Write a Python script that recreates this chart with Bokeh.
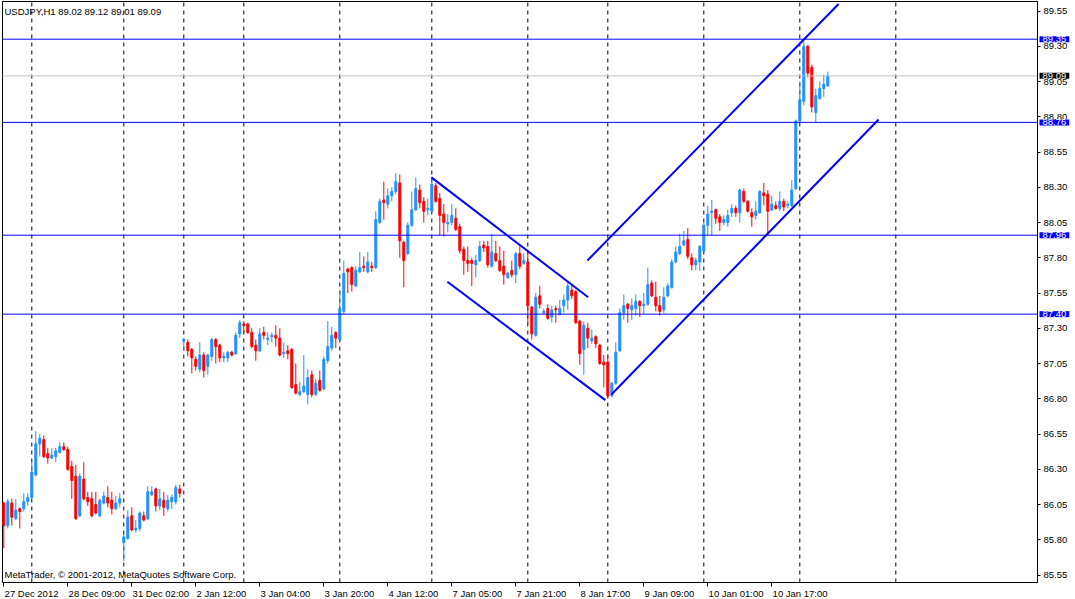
from bokeh.plotting import figure
from bokeh.models import (Range1d, FixedTicker, Label, ColumnDataSource,
                          PrintfTickFormatter, LinearAxis)
from bokeh.embed import file_html
from bokeh.resources import INLINE

# ---------------- data ----------------
symbol = "USDJPY,H1"
last_ohlc = [89.02, 89.12, 89.01, 89.09]

opens = [86.06, 85.90, 86.06, 85.95, 86.02, 86.02, 86.07, 86.10, 86.26, 86.48,
         86.51, 86.41, 86.38, 86.39, 86.42, 86.46, 86.44, 86.32, 86.25, 85.97,
         86.23, 86.10, 86.09, 86.05, 85.97, 86.06, 86.10, 86.08, 86.02, 86.06,
         85.78, 85.81, 85.97, 85.87, 85.88, 85.97, 85.95, 86.12, 86.16, 86.04,
         86.08, 86.02, 86.07, 86.07, 86.16, 87.21, 87.20, 87.15, 87.08, 87.01,
         87.11, 87.03, 87.10, 87.22, 87.18, 87.09, 87.09, 87.13, 87.12, 87.26,
         87.33, 87.33, 87.27, 87.18, 87.14, 87.27, 87.22, 87.24, 87.25, 87.23,
         87.12, 87.14, 87.15, 86.90, 86.83, 86.85, 86.83, 86.97, 86.83, 86.93,
         86.87, 87.07, 87.16, 87.27, 87.22, 87.42, 87.72, 87.73, 87.60, 87.70,
         87.74, 87.70, 87.74, 87.73, 88.05, 88.21, 88.18, 88.24, 88.27, 88.33,
         87.91, 87.83, 88.03, 88.14, 88.28, 88.20, 88.14, 88.13, 88.31, 88.22,
         88.11, 88.04, 88.05, 88.08, 88.02, 87.86, 87.78, 87.78, 87.75, 87.78,
         87.89, 87.88, 87.74, 87.83, 87.78, 87.74, 87.66, 87.71, 87.68, 87.83,
         87.76, 87.77, 87.45, 87.25, 87.53, 87.41, 87.44, 87.38, 87.44, 87.40,
         87.46, 87.50, 87.57, 87.56, 87.35, 87.15, 87.30, 87.21, 87.24, 87.18,
         87.06, 87.06, 86.82, 86.91, 87.14, 87.41, 87.47, 87.43, 87.44, 87.49,
         87.46, 87.47, 87.62, 87.52, 87.46, 87.43, 87.53, 87.59, 87.77, 87.83,
         87.89, 87.93, 87.80, 87.75, 87.77, 87.85, 88.03, 88.12, 88.14, 88.09,
         88.05, 88.05, 88.12, 88.15, 88.12, 88.27, 88.20, 88.12, 88.10, 88.12,
         88.26, 88.25, 88.14, 88.17, 88.15, 88.20, 88.17, 88.17, 88.29, 88.77,
         88.91, 89.30, 89.15, 88.83, 88.93, 89.00, 89.02]

highs = [86.07, 86.09, 86.09, 86.09, 86.03, 86.13, 86.13, 86.35, 86.57, 86.55,
         86.54, 86.45, 86.45, 86.45, 86.49, 86.49, 86.46, 86.36, 86.33, 86.27,
         86.35, 86.14, 86.14, 86.14, 86.09, 86.14, 86.18, 86.14, 86.11, 86.13,
         85.84, 86.01, 86.03, 85.94, 86.00, 86.00, 86.18, 86.18, 86.17, 86.16,
         86.14, 86.12, 86.12, 86.19, 86.19, 87.23, 87.22, 87.16, 87.10, 87.20,
         87.13, 87.12, 87.23, 87.23, 87.19, 87.13, 87.14, 87.14, 87.27, 87.36,
         87.35, 87.34, 87.30, 87.22, 87.30, 87.31, 87.27, 87.27, 87.32, 87.30,
         87.20, 87.18, 87.16, 87.05, 86.92, 87.11, 87.01, 87.00, 86.94, 87.00,
         87.10, 87.35, 87.31, 87.28, 87.56, 87.78, 87.73, 87.74, 87.74, 87.84,
         87.81, 87.84, 87.77, 88.13, 88.22, 88.34, 88.29, 88.30, 88.40, 88.39,
         87.92, 88.05, 88.27, 88.37, 88.32, 88.23, 88.22, 88.36, 88.33, 88.26,
         88.18, 88.11, 88.18, 88.15, 88.04, 87.88, 87.88, 87.80, 87.82, 87.92,
         87.92, 87.92, 87.97, 87.92, 87.88, 87.85, 87.70, 87.78, 87.84, 87.88,
         87.83, 87.84, 87.46, 87.55, 87.60, 87.44, 87.47, 87.46, 87.46, 87.50,
         87.54, 87.62, 87.60, 87.57, 87.36, 87.35, 87.34, 87.29, 87.25, 87.19,
         87.11, 87.11, 86.92, 87.20, 87.44, 87.54, 87.48, 87.51, 87.54, 87.50,
         87.55, 87.73, 87.64, 87.63, 87.53, 87.59, 87.62, 87.79, 87.88, 87.97,
         87.99, 88.01, 87.83, 87.80, 87.89, 88.05, 88.17, 88.21, 88.15, 88.11,
         88.10, 88.14, 88.18, 88.17, 88.29, 88.29, 88.21, 88.15, 88.20, 88.28,
         88.33, 88.28, 88.24, 88.20, 88.27, 88.22, 88.20, 88.35, 88.78, 89.05,
         89.34, 89.31, 89.17, 89.00, 89.05, 89.10, 89.12]

lows = [85.74, 85.88, 85.90, 85.94, 85.88, 86.00, 86.04, 86.09, 86.25, 86.39,
        86.38, 86.34, 86.37, 86.35, 86.41, 86.43, 86.29, 86.09, 85.94, 85.96,
        86.08, 86.04, 85.96, 85.98, 85.96, 86.05, 86.03, 85.98, 86.01, 86.03,
        85.65, 85.80, 85.86, 85.85, 85.86, 85.93, 85.94, 86.11, 86.00, 86.01,
        85.97, 86.00, 86.02, 86.05, 86.10, 87.14, 87.10, 86.98, 87.00, 86.99,
        86.95, 86.97, 87.07, 87.05, 87.06, 87.06, 87.06, 87.10, 87.11, 87.23,
        87.27, 87.26, 87.16, 87.07, 87.13, 87.22, 87.18, 87.20, 87.17, 87.10,
        87.09, 87.08, 86.87, 86.83, 86.82, 86.84, 86.76, 86.81, 86.82, 86.85,
        86.86, 87.05, 87.14, 87.16, 87.21, 87.40, 87.55, 87.56, 87.59, 87.69,
        87.70, 87.69, 87.70, 87.72, 88.04, 88.07, 88.15, 88.20, 88.25, 87.80,
        87.59, 87.82, 88.02, 88.13, 88.15, 88.05, 88.10, 88.12, 88.19, 87.96,
        87.95, 87.98, 88.03, 87.99, 87.83, 87.68, 87.70, 87.60, 87.66, 87.77,
        87.84, 87.73, 87.73, 87.77, 87.70, 87.61, 87.65, 87.66, 87.62, 87.72,
        87.75, 87.33, 87.22, 87.24, 87.44, 87.40, 87.36, 87.34, 87.34, 87.39,
        87.41, 87.43, 87.51, 87.33, 87.04, 86.97, 87.16, 87.19, 87.16, 87.04,
        86.88, 86.81, 86.81, 86.90, 87.13, 87.36, 87.34, 87.36, 87.39, 87.38,
        87.40, 87.46, 87.52, 87.42, 87.39, 87.41, 87.52, 87.58, 87.76, 87.82,
        87.88, 87.79, 87.71, 87.71, 87.71, 87.84, 87.96, 87.96, 88.04, 87.99,
        88.03, 88.02, 88.09, 88.09, 88.05, 88.19, 88.12, 88.02, 88.07, 88.11,
        88.17, 87.96, 88.13, 88.14, 88.13, 88.13, 88.15, 88.16, 88.28, 88.76,
        88.88, 89.08, 88.83, 88.76, 88.92, 88.94, 89.01]

closes = [85.90, 86.07, 85.96, 86.01, 86.00, 86.07, 86.10, 86.28, 86.48, 86.52,
          86.39, 86.38, 86.40, 86.43, 86.46, 86.44, 86.30, 86.22, 85.95, 86.25,
          86.09, 86.07, 85.97, 85.99, 86.08, 86.11, 86.06, 86.02, 86.06, 86.09,
          85.82, 85.96, 85.87, 85.88, 85.99, 85.94, 86.14, 86.14, 86.04, 86.09,
          86.03, 86.08, 86.10, 86.17, 86.13, 87.22, 87.14, 87.09, 87.03, 87.11,
          87.00, 87.11, 87.22, 87.17, 87.09, 87.10, 87.13, 87.11, 87.25, 87.34,
          87.32, 87.27, 87.17, 87.14, 87.26, 87.25, 87.23, 87.25, 87.23, 87.11,
          87.13, 87.12, 86.88, 86.84, 86.85, 86.89, 86.95, 86.83, 86.91, 86.86,
          87.08, 87.17, 87.25, 87.23, 87.44, 87.69, 87.70, 87.61, 87.71, 87.73,
          87.73, 87.77, 87.73, 88.07, 88.20, 88.19, 88.24, 88.27, 88.34, 87.92,
          87.78, 88.03, 88.14, 88.29, 88.19, 88.13, 88.15, 88.32, 88.20, 88.10,
          88.05, 88.05, 88.10, 88.00, 87.85, 87.78, 87.76, 87.76, 87.78, 87.88,
          87.87, 87.75, 87.84, 87.78, 87.71, 87.68, 87.69, 87.68, 87.83, 87.74,
          87.78, 87.46, 87.26, 87.52, 87.47, 87.42, 87.37, 87.43, 87.43, 87.44,
          87.50, 87.60, 87.53, 87.34, 87.12, 87.32, 87.23, 87.23, 87.19, 87.05,
          87.04, 86.82, 86.91, 87.13, 87.41, 87.46, 87.44, 87.46, 87.49, 87.46,
          87.47, 87.61, 87.53, 87.46, 87.42, 87.52, 87.60, 87.77, 87.84, 87.88,
          87.92, 87.81, 87.75, 87.78, 87.88, 88.03, 88.11, 88.13, 88.08, 88.05,
          88.07, 88.10, 88.15, 88.12, 88.28, 88.20, 88.13, 88.09, 88.13, 88.27,
          88.24, 88.13, 88.18, 88.15, 88.20, 88.16, 88.18, 88.28, 88.77, 88.92,
          89.30, 89.11, 88.87, 88.95, 89.00, 89.03, 89.09]

tick_bars = [0, 16, 32, 48, 64, 80, 96, 112, 128, 144, 160, 176, 192]
tick_labels = ["27 Dec 2012", "28 Dec 09:00", "31 Dec 02:00", "2 Jan 12:00",
               "3 Jan 04:00", "3 Jan 20:00", "4 Jan 12:00", "7 Jan 05:00",
               "7 Jan 21:00", "8 Jan 17:00", "9 Jan 09:00", "10 Jan 01:00",
               "10 Jan 17:00"]
day_start_bars = [7, 30, 45, 60, 84, 107, 131, 151, 175, 199, 223]
price_ticks = [85.55, 85.80, 86.05, 86.30, 86.55, 86.80, 87.05, 87.30, 87.55,
               87.80, 88.05, 88.30, 88.55, 88.80, 89.05, 89.30, 89.55]
levels = [89.35, 88.76, 87.96, 87.40]
bid_price = 89.09

# trend lines: start bar, start price, end bar, end price
trend_x0 = [106.9, 110.9, 151.9, 145.9]
trend_y0 = [88.37, 87.63, 86.83, 87.78]
trend_x1 = [146.1, 150.4, 218.7, 208.7]
trend_y1 = [87.52, 86.79, 88.78, 89.60]

# ---------------- layout (canvas = frame) ----------------
W, H = 1075, 599
BAR_PX = 4.0          # horizontal pixels per bar
UNIT_PX = 141.0       # vertical pixels per 1.00 of price
BAR0_PX = 3.3         # canvas x of bar 0
REF_PRICE, REF_PY = 89.55, 10.5
CH_L, CH_T, CH_R, CH_B = 2, 1, 1037, 582   # chart box on the canvas


def bar_at(px):
    return (px - BAR0_PX) / BAR_PX


def price_at(py):
    return REF_PRICE - (py - REF_PY) / UNIT_PX


BULL = "#1E90FF"
BEAR = "#FF0000"
LINE_BLUE = "#0000FF"
FONT = "Liberation Sans"
FS = "9.5px"

p = figure(frame_width=W, frame_height=H,
           x_range=Range1d(bar_at(0), bar_at(W)),
           y_range=Range1d(price_at(H), price_at(0)),
           output_backend="svg", toolbar_location=None,
           x_axis_location=None, y_axis_location=None,
           min_border=0)
p.grid.visible = False
p.outline_line_color = None
p.background_fill_color = "white"
p.border_fill_color = "white"

# price scale on the right edge of the chart box
yax = LinearAxis(fixed_location=bar_at(CH_R),
                 bounds=(price_at(CH_B), price_at(CH_T)),
                 ticker=FixedTicker(ticks=price_ticks, minor_ticks=[]),
                 formatter=PrintfTickFormatter(format="%.2f"))
yax.major_tick_out = 3
yax.major_tick_in = 0
yax.minor_tick_out = 0
yax.major_label_standoff = 3
yax.major_label_text_font = FONT
yax.major_label_text_font_size = FS
yax.major_label_text_color = "black"
yax.axis_line_color = "black"
yax.major_tick_line_color = "black"
p.add_layout(yax, "right")

# time scale: tick marks at the bars (minor), left-aligned labels (major,
# placed at the centre of each label's text)
ARIAL = {" ": 278, ":": 278, "D": 722, "e": 556, "c": 500, "J": 500,
         "a": 556, "n": 556}
FS_NUM = 9.5


def text_px(s):
    return sum(ARIAL.get(ch, 556) for ch in s) * FS_NUM / 1000.0


label_centres = [b + (0.8 + text_px(t) / 2.0) / BAR_PX
                 for b, t in zip(tick_bars, tick_labels)]
xax = LinearAxis(fixed_location=price_at(CH_B),
                 bounds=(bar_at(CH_L), bar_at(CH_R)),
                 ticker=FixedTicker(ticks=label_centres, minor_ticks=tick_bars))
xax.major_label_overrides = {c: t for c, t in zip(label_centres, tick_labels)}
xax.major_tick_out = 0
xax.major_tick_in = 0
xax.major_tick_line_color = None
xax.minor_tick_out = 4
xax.minor_tick_in = 0
xax.minor_tick_line_color = "black"
xax.major_label_standoff = 1
xax.major_label_text_font = FONT
xax.major_label_text_font_size = FS
xax.major_label_text_color = "black"
xax.axis_line_color = "black"
p.add_layout(xax, "below")

# chart box left and top borders
p.segment(x0=[bar_at(CH_L), bar_at(CH_L)], y0=[price_at(CH_B), price_at(CH_T)],
          x1=[bar_at(CH_L), bar_at(CH_R)], y1=[price_at(CH_T), price_at(CH_T)],
          line_color="black", line_width=1)

# vertical day separators
p.segment(x0=day_start_bars, x1=day_start_bars,
          y0=[price_at(CH_B)] * len(day_start_bars),
          y1=[price_at(CH_T)] * len(day_start_bars),
          line_color="black", line_dash="4 4", line_width=1)

# candles
n = len(opens)
src = ColumnDataSource(dict(
    x=list(range(n)),
    open=opens, high=highs, low=lows, close=closes,
    top=[max(o, c) for o, c in zip(opens, closes)],
    bottom=[min(o, c) for o, c in zip(opens, closes)],
    color=[BULL if c > o else BEAR for o, c in zip(opens, closes)],
))
p.segment(x0="x", y0="low", x1="x", y1="high", line_color="color",
          line_width=1, source=src)
p.vbar(x="x", width=0.5, top="top", bottom="bottom", fill_color="color",
       line_color="color", line_width=1, source=src)

# horizontal levels and bid line
p.segment(x0=[bar_at(CH_L)] * len(levels), x1=[bar_at(CH_R)] * len(levels),
          y0=levels, y1=levels, line_color=LINE_BLUE, line_width=1)
p.segment(x0=[bar_at(CH_L)], x1=[bar_at(CH_R)], y0=[bid_price], y1=[bid_price],
          line_color="#C0C0C0", line_width=1)

# trend lines
p.segment(x0=trend_x0, y0=trend_y0, x1=trend_x1, y1=trend_y1,
          line_color=LINE_BLUE, line_width=2)

# price tags on the right scale
tag_x = bar_at(CH_R + 2)
for lv in levels:
    p.add_layout(Label(x=tag_x, y=lv, text="%.2f" % lv, text_color="white",
                       background_fill_color=LINE_BLUE, text_align="left",
                       text_baseline="middle", text_font=FONT,
                       text_font_size=FS, padding=(3, 0)))
p.add_layout(Label(x=tag_x, y=bid_price, text="%.2f" % bid_price,
                   text_color="white", background_fill_color="black",
                   text_align="left", text_baseline="middle",
                   text_font=FONT, text_font_size=FS, padding=(3, 0)))

# header and footer texts
header = symbol + "  " + " ".join("%.2f" % v for v in last_ohlc)
p.add_layout(Label(x=bar_at(4), y=price_at(10.5), text=header,
                   text_color="black", text_align="left",
                   text_baseline="middle", text_font=FONT,
                   text_font_size=FS))
p.add_layout(Label(x=bar_at(4), y=price_at(574),
                   text="MetaTrader, \u00a9 2001-2012, MetaQuotes Software Corp.",
                   text_color="black", text_align="left",
                   text_baseline="middle", text_font=FONT,
                   text_font_size=FS))

html = file_html(p, INLINE, title="USDJPY,H1")
html = html.replace("<head>", "<head><style>html, body {margin:0; padding:0; overflow:hidden;}</style>", 1)
open("out.html", "w").write(html)
